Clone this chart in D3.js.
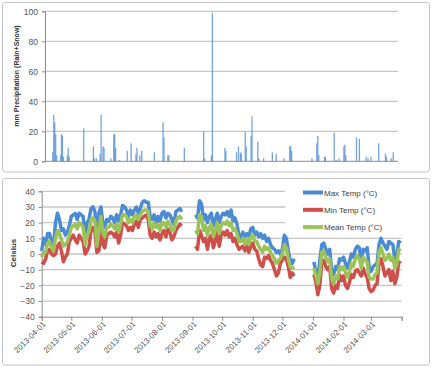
<!DOCTYPE html>
<html>
<head>
<meta charset="utf-8">
<script src="https://cdn.jsdelivr.net/npm/d3@7"></script>
<style>
  body { margin: 0; background: #fff; }
  svg { display: block; font-family: "Liberation Sans", Arial, sans-serif; }
</style>
</head>
<body>
<svg id="chart" width="432" height="367"></svg>
<script>
const startDate = new Date(2013, 3, 1);
const endDate = new Date(2014, 3, 1);
const tempStepDays = 2;

// precipitation: day offset from 2013-04-01, and mm
const precipDay = [8, 9, 10, 11, 12, 16, 17, 18, 19, 23, 24, 25, 40, 50, 51, 53, 57, 58, 60, 61, 68, 71, 72, 73, 77,
  85, 89, 94, 95, 98, 100, 113, 122, 123, 127, 128, 144, 164, 165, 172, 173, 186, 187, 198, 200, 202, 203, 207, 208,
  213, 214, 220, 221, 226, 235, 239, 247, 253, 254, 255, 276, 281, 282, 283, 289, 290, 299, 301, 304, 309, 310, 311,
  322, 325, 332, 334, 337, 345, 352, 353, 358, 360];
const precipMm = [6, 31, 26, 18, 4, 4, 18, 17, 3, 4, 9, 3, 22, 10, 2, 2, 5, 31, 10, 9, 2, 18, 18, 9, 1,
  7, 12, 5, 9, 4, 7, 6, 26, 16, 4, 4, 9, 20, 2, 4, 99, 9, 7, 6, 10, 6, 5, 20, 10,
  17, 30, 13, 2, 2, 6, 5, 2, 10, 10, 7, 2, 12, 17, 4, 3, 3, 19, 1, 2, 10, 11, 4,
  16, 15, 3, 2, 3, 12, 5, 3, 2, 6];

// temperatures every 2 days from 2013-04-01 (null = missing)
const maxTemp = [
  2, 10, 6, 13, 13, 8, 5, 20, 26, 22, 15, 16, 12, 14, 18,
  24, 25, 26, 22, 26, 25, 24, 12, 20, 22, 29, 30, 27, 8, 26, 30,
  20, 17, 22, 21, 24, 23, 20, 25, 21, 25, 31, 30, 28, 24, 28,
  25, 28, 30, 26, 29, 33, 34, 33, 33, 24, 22, 25, 20, 24, 21,
  26, 27, 23, 26, 25, 22, 19, 27, 28, 29, 27,
  null, null, null, null, null, null,
  25, 23, 34, 32, 22, 25, 20, 24, 26, 18, 22, 26, 20, 24,
  26, 25, 27, 24, 28, 21, 23, 19, 12, 10, 14, 9, 13, 11, 16,
  17, 12, 14, 11, 13, 10, 12, 8, 10, 6, 4, 3, 1, 2, 0,
  3, 12, 10, 2, -4, -6, -3,
  null, null, null, null, null, null, null, null, null,
  -5, -12, -15, -4, 6, 7, 3, 0, 3, -11, -13, -8, -10, -3, -4,
  -2, -6, -9, -5, 0, -2, 3, 5, 4, -5, 3, 2, 4, -9,
  -11, -8, -7, -6, 6, 10, 7, 5, 3, 8, 7, 6, -3, -1, 8, 7
];
const minTemp = [
  -5, -6, -3, 2, 3, 0, -1, 0, 5, 7, 2, -5, -2, 0, 8,
  10, 12, 9, 7, 12, 10, 8, 0, 2, 5, 15, 17, 14, 1, 2, 18,
  6, 4, 12, 13, 14, 13, 11, 14, 7, 12, 20, 19, 18, 15, 17,
  15, 19, 21, 17, 22, 23, 24, 25, 22, 12, 10, 14, 11, 13, 9,
  13, 15, 11, 16, 14, 9, 11, 15, 17, 19, 18,
  null, null, null, null, null, null,
  5, 3, 15, 12, 8, 10, 3, 10, 12, 4, 8, 14, 5, 12,
  14, 12, 15, 11, 13, 8, 10, 6, 3, 4, 5, 2, 6, 1, 5,
  7, 3, 2, -3, -7, -8, -2, -3, -1, -4, -6, -10, -14, -12, -6,
  -4, -2, -3, -8, -15, -12, -14,
  null, null, null, null, null, null, null, null, null,
  -13, -18, -26, -20, -5, -4, -8, -10, -8, -22, -25, -20, -22, -13, -17,
  -14, -20, -22, -18, -13, -15, -11, -10, -12, -14, -9, -13, -15, -22,
  -24, -23, -20, -19, -6, -3, -8, -14, -12, -10, -17, -11, -19, -15, -5, -6
];
const meanTemp = [
  -2, 1, 1, 7, 8, 4, 2, 10, 15, 13, 9, 5, 6, 8, 12,
  17, 18, 19, 16, 20, 19, 17, 6, 12, 14, 22, 23, 21, 5, 15, 24,
  13, 11, 17, 17, 19, 18, 16, 19, 14, 19, 25, 25, 24, 20, 22,
  20, 24, 25, 22, 25, 27, 28, 28, 27, 18, 16, 20, 17, 19, 15,
  20, 20, 17, 21, 19, 15, 15, 21, 23, 24, 22,
  null, null, null, null, null, null,
  15, 13, 25, 24, 15, 18, 12, 17, 19, 11, 15, 20, 13, 18,
  20, 19, 21, 18, 20, 15, 16, 13, 8, 8, 10, 6, 10, 6, 11,
  12, 8, 8, 5, 3, 1, 5, 3, 4, 1, -1, -3, -6, -4, -3,
  0, 6, 4, -3, -8, -9, -8,
  null, null, null, null, null, null, null, null, null,
  -9, -14, -19, -12, 1, 2, -2, -5, -3, -16, -19, -14, -16, -8, -10,
  -8, -12, -15, -11, -6, -8, -3, -1, -3, -9, -2, -4, -5, -15,
  -16, -16, -13, -12, 1, 4, 0, -4, -3, 0, -4, -2, -9, -7, 3, 2
];

const seriesNames = ['Max Temp (°C)', 'Min Temp (°C)', 'Mean Temp (°C)'];
const seriesColors = ['#4a8bd4', '#cf504b', '#9cc35a'];
const precipTicks = [0, 20, 40, 60, 80, 100];
const tempTicks = [-40, -30, -20, -10, 0, 10, 20, 30, 40];

const svg = d3.select('#chart');
const gridColor = '#c6c6c6';
const axisColor = '#8c8c8c';
const textColor = '#555';

// panel frames
svg.append('rect').attr('x', 2.5).attr('y', 2.5).attr('width', 427).attr('height', 169.5)
  .attr('rx', 3).attr('fill', 'none').attr('stroke', '#c4c4c4');
svg.append('rect').attr('x', 2.5).attr('y', 178.5).attr('width', 427).attr('height', 186.5)
  .attr('rx', 3).attr('fill', 'none').attr('stroke', '#c4c4c4');

// ---------- precipitation ----------
const xP = d3.scaleTime().domain([startDate, endDate]).range([45, 398]);
const yP = d3.scaleLinear().domain([0, 100]).range([161.3, 11.3]);

svg.append('g').selectAll('line').data(precipTicks.slice(1)).join('line')
  .attr('x1', 45).attr('x2', 398)
  .attr('y1', d => yP(d)).attr('y2', d => yP(d))
  .attr('stroke', gridColor).attr('stroke-width', 1.3);

svg.append('g').selectAll('rect').data(precipDay).join('rect')
  .attr('x', d => xP(d3.timeDay.offset(startDate, d)) - 0.6)
  .attr('width', 1.3)
  .attr('y', (d, i) => yP(precipMm[i]))
  .attr('height', (d, i) => yP(0) - yP(precipMm[i]))
  .attr('fill', '#5d95d9').attr('opacity', 0.85);

const yAxisP = svg.append('g').attr('transform', 'translate(45,0)')
  .call(d3.axisLeft(yP).tickValues(precipTicks).tickSize(3).tickPadding(4));
yAxisP.select('.domain').attr('stroke', axisColor);
yAxisP.selectAll('.tick line').attr('stroke', axisColor);
yAxisP.selectAll('text').attr('fill', textColor).style('font-size', '8.5px');

svg.append('line').attr('x1', 45).attr('x2', 398).attr('y1', yP(0)).attr('y2', yP(0))
  .attr('stroke', axisColor);

svg.append('text')
  .attr('transform', 'translate(19,76) rotate(-90)')
  .attr('text-anchor', 'middle')
  .attr('fill', '#333').style('font-size', '7px').style('font-weight', 'bold')
  .text('mm Precipitation (Rain+Snow)');

// ---------- temperature ----------
const xT = d3.scaleTime().domain([startDate, endDate]).range([41.7, 401.7]);
const yT = d3.scaleLinear().domain([-40, 40]).range([316.7, 191.3]);

svg.append('g').selectAll('line').data(tempTicks.slice(1)).join('line')
  .attr('x1', 41.7).attr('x2', 401.7)
  .attr('y1', d => yT(d)).attr('y2', d => yT(d))
  .attr('stroke', gridColor).attr('stroke-width', 1.3);

const yAxisT = svg.append('g').attr('transform', 'translate(41.7,0)')
  .call(d3.axisLeft(yT).tickValues(tempTicks).tickSize(3).tickPadding(4));
yAxisT.select('.domain').attr('stroke', axisColor);
yAxisT.selectAll('.tick line').attr('stroke', axisColor);
yAxisT.selectAll('text').attr('fill', textColor).style('font-size', '8.5px');

const monthTicks = d3.timeMonth.range(startDate, d3.timeDay.offset(endDate, 1));
const fmt = d3.timeFormat('%Y-%m-%d');
const xAxisT = svg.append('g').attr('transform', `translate(0,${yT(-40)})`)
  .call(d3.axisBottom(xT).tickValues(monthTicks).tickSize(4)
    .tickFormat(d => (+d === +endDate ? '' : fmt(d))));
xAxisT.select('.domain').attr('stroke', axisColor);
xAxisT.selectAll('.tick line').attr('stroke', axisColor);
xAxisT.selectAll('text')
  .attr('x', 0).attr('y', 0).attr('dy', '0.35em')
  .attr('transform', 'translate(2,6) rotate(-45)')
  .attr('text-anchor', 'end')
  .attr('fill', textColor).style('font-size', '8px');

svg.append('text')
  .attr('transform', 'translate(16,253) rotate(-90)')
  .attr('text-anchor', 'middle')
  .attr('fill', '#333').style('font-size', '8px').style('font-weight', 'bold')
  .text('Celsius');

const line = d3.line()
  .defined(d => d != null)
  .x((d, i) => xT(d3.timeDay.offset(startDate, i * tempStepDays)))
  .y(d => yT(d));

[maxTemp, minTemp, meanTemp].forEach((values, k) => {
  svg.append('path')
    .attr('d', line(values))
    .attr('fill', 'none')
    .attr('stroke', seriesColors[k])
    .attr('stroke-width', 3.5)
    .attr('stroke-linejoin', 'round');
});

// legend over the plot
svg.append('rect').attr('x', 285).attr('y', 183).attr('width', 130).attr('height', 50).attr('fill', '#fff');
const legend = svg.append('g').attr('transform', 'translate(303,192.5)');
seriesNames.forEach((name, i) => {
  legend.append('line')
    .attr('x1', 0).attr('x2', 20).attr('y1', i * 17.3).attr('y2', i * 17.3)
    .attr('stroke', seriesColors[i]).attr('stroke-width', 4);
  legend.append('text')
    .attr('x', 21).attr('y', i * 17.3 + 3)
    .attr('fill', '#404040').style('font-size', '8px')
    .text(name);
});
</script>
</body>
</html>
